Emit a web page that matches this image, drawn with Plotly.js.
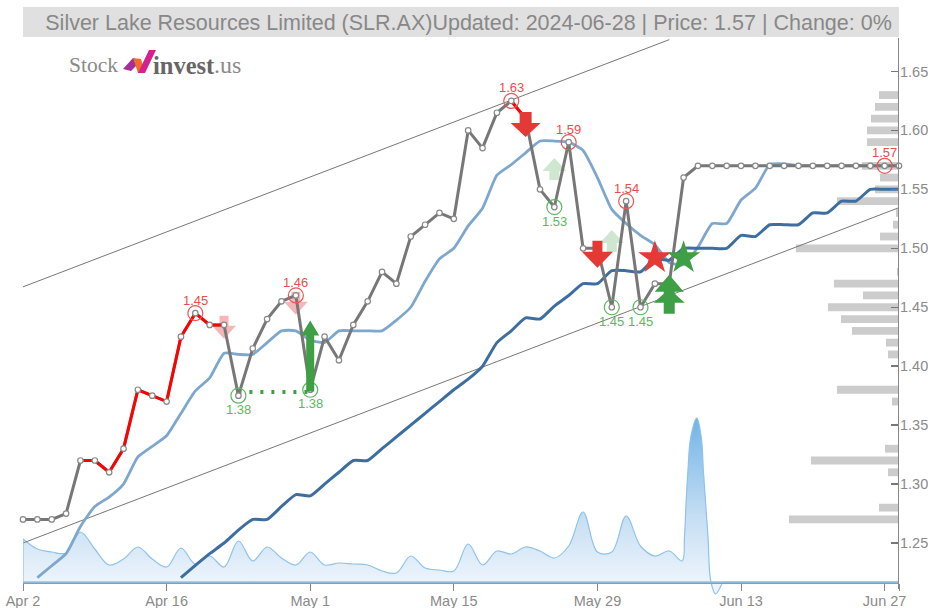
<!DOCTYPE html>
<html>
<head>
<meta charset="utf-8">
<script src="https://cdn.plot.ly/plotly-3.0.1.min.js"></script>
<style>html,body{margin:0;padding:0;background:#fff;overflow:hidden}#c{width:928px;height:608px}</style>
</head>
<body>
<div id="c"></div>
<script>
const tickIdx = [0,10,20,30,40,50,60,61];
const tickLabels = ['Apr 2','Apr 16','May 1','May 15','May 29','Jun 13','Jun 27',''];
const priceTicks = [1.25,1.30,1.35,1.40,1.45,1.50,1.55,1.60,1.65,1.6784];
const priceTickLabels = ['1.25','1.30','1.35','1.40','1.45','1.50','1.55','1.60','1.65',''];

const price = [1.27,1.27,1.27,1.275,1.32,1.32,1.31,1.33,1.38,1.375,1.37,1.425,1.445,1.435,1.435,1.375,1.415,1.44,1.455,1.46,
  1.38,1.425,1.405,1.435,1.455,1.48,1.47,1.51,1.52,1.53,1.525,1.60,1.585,1.615,1.625,1.61,1.55,1.535,1.59,1.50,
  1.50,1.45,1.54,1.45,1.47,1.47,1.56,1.57,1.57,1.57,1.57,1.57,1.57,1.57,1.57,1.57,1.57,1.57,1.57,1.57,1.57,1.57];
const redIdxA = [4,5,6,7,8,9,10,11,12,13,14];
const redIdxB = [34,35];

const maFast = [null,1.2206,1.2307,1.241,1.264,1.281,1.289,1.300,1.323,1.332,1.341,1.36,1.379,1.39,1.411,1.41,1.41,1.42,1.43,1.43,
  1.422,1.42,1.43,1.43,1.43,1.43,1.439,1.45,1.472,1.491,1.50,1.519,1.534,1.562,1.571,1.581,1.591,1.591,1.59,1.583,
  1.56,1.533,1.521,1.511,1.503,1.488,1.486,1.501,1.521,1.521,1.541,1.551,1.571,1.5716,1.57,1.57,1.57,1.57,1.57,1.57,1.57,1.57];
const maSlow = [null,null,null,null,null,null,null,null,null,null,null,1.2206,1.231,1.241,1.25,1.261,1.27,1.27,1.281,1.291,
  1.29,1.30,1.31,1.32,1.32,1.33,1.34,1.35,1.36,1.37,1.38,1.389,1.40,1.42,1.43,1.441,1.44,1.451,1.46,1.47,
  1.47,1.481,1.481,1.48,1.491,1.49,1.50,1.50,1.50,1.50,1.511,1.51,1.52,1.52,1.52,1.53,1.53,1.54,1.54,1.55,1.55,1.55];

// volume curve, with extra readings around the tall June peak
const volumeX = [0,1,2,3,4,5,6,7,8,9,10,11,12,13,14,15,16,17,18,19,
  20,21,22,23,24,25,26,27,28,29,30,31,32,33,34,35,36,37,38,39,
  40,41,42,43,44,45,45.9,46.06,46.17,46.3,46.5,46.92,47.23,47.38,47.54,47.7,47.89,48.23,48.77,48.85,49.2,61];
const volume = [4.3,3.3,3.0,2.9,5.0,3.3,1.7,2.3,3.5,2.3,1.5,3.4,1.8,2.6,1.5,4.1,2.1,3.5,2.4,1.7,
  3.0,1.7,1.9,1.8,1.7,1.1,0.9,2.6,1.4,1.2,1.1,3.8,1.7,3.1,2.8,3.5,3.1,2.4,3.6,7.0,
  3.0,3.0,6.6,3.6,2.6,3.1,2.1,4.5,7.8,11.1,14.5,16.4,14.5,11.1,7.8,4.5,0.1,-1.2,0,0,0,0];

const profilePrice = [1.63,1.62,1.61,1.60,1.59,1.57,1.56,1.55,1.54,1.53,1.52,1.51,1.50,1.48,1.47,1.46,1.45,1.44,1.43,1.42,1.41,1.38,1.37,1.33,1.32,1.31,1.28,1.27];
const profileSize = [20,24,28,32,32,37,19,24,62,3,6,19,103,2,65,36,71,58,47,13,11,62,7,14,88,11,20,110];

const upperX = [0,45], upperY = [1.4673,1.677];
const lowerX = [0,61], lowerY = [1.25,1.5345];
const supportX = [15,20], supportY = [1.378,1.378];

const highIdx = [12,19,34,38,42,60];
const highPrice = [1.445,1.46,1.625,1.59,1.54,1.57];
const highLabel = ['1.45','1.46','1.63','1.59','1.54','1.57'];
const lowIdx = [15,20,37,41,43];
const lowPrice = [1.375,1.38,1.535,1.45,1.45];
const lowLabel = ['1.38','1.38','1.53','1.45','1.45'];

const sellStarIdx = [44], sellStarPrice = [1.492];
const buyStarIdx = [46], buyStarPrice = [1.492];

// arrow signals: index, price at tip, direction, total length, head length, head width, shaft width, colour, opacity
const arrowIdx   = [14,19,37,41,35,40,20,45,45];
const arrowTip   = [1.4232,1.4436,1.5767,1.5156,1.5945,1.4834,1.4387,1.4775,1.4656];
const arrowDir   = ['down','down','up','up','down','down','up','up','up'];
const arrowLen   = [23,23,22,22,25,27,71,25,25];
const arrowHead  = [13,13,13,13,14,16,15,17,14];
const arrowW     = [24,24,24,24,30,31,18,29,31];
const arrowShaft = [9,9,10,10,12,10,8,11,11];
const arrowColor = ['#f4b6b6','#f4b6b6','#cfe6d0','#cfe6d0','#e53935','#e53935','#3f9f45','#3f9f45','#3f9f45'];
const arrowLayer = ['below','below','below','below','above','above','above','above','above'];

const idx = price.map((_,i)=>i);
const pick = (arr,list)=>arr.map((_,i)=>list.includes(i)?arr[i]:null);
const grayFont = '#8a8a8a';
const F = '"Liberation Sans", Arial, sans-serif';

const traces = [
  {x:volumeX,y:volume,xaxis:'x',yaxis:'y',type:'scatter',mode:'lines',cliponaxis:false,
   line:{color:'#8fc3ea',width:1.2,shape:'spline',smoothing:1.0,simplify:false},fill:'tozeroy',
   fillgradient:{type:'vertical',start:16.4,stop:0,colorscale:[[0,'#73b4e6'],[0.6,'#c5def3'],[1,'#edf4fc']]}},
  {y:profilePrice,x:profileSize.map(v=>-v/14.35),base:profilePrice.map(()=>61),xaxis:'x',yaxis:'y2',type:'bar',orientation:'h',
   width:0.0066,marker:{color:'#cccccc',line:{width:0}}},
  {x:upperX,y:upperY,xaxis:'x',yaxis:'y2',mode:'lines',line:{color:'#777',width:1}},
  {x:lowerX,y:lowerY,xaxis:'x',yaxis:'y2',mode:'lines',line:{color:'#777',width:1}},
  {x:idx,y:maFast,xaxis:'x',yaxis:'y2',mode:'lines',line:{color:'#7ea7cd',width:2.8,shape:'spline',smoothing:0.5}},
  {x:idx,y:maSlow,xaxis:'x',yaxis:'y2',mode:'lines',line:{color:'#3c6e9f',width:3,shape:'spline',smoothing:0.5}},
  {x:supportX,y:supportY,xaxis:'x',yaxis:'y2',mode:'lines',line:{color:'#3f9f45',width:4,dash:'3px,8px'}},
  {x:idx,y:price,xaxis:'x',yaxis:'y2',mode:'lines',line:{color:'#777777',width:3}},
  {x:idx,y:pick(price,redIdxA),xaxis:'x',yaxis:'y2',mode:'lines',line:{color:'#ff0000',width:3}},
  {x:idx,y:pick(price,redIdxB),xaxis:'x',yaxis:'y2',mode:'lines',line:{color:'#ff0000',width:3}},
  {x:idx,y:price,xaxis:'x',yaxis:'y2',mode:'markers',cliponaxis:false,marker:{size:5.5,color:'#fff',line:{color:'#888',width:1.2}}},
  {x:highIdx,y:highPrice,xaxis:'x',yaxis:'y2',mode:'markers',marker:{symbol:'circle-open',size:15,color:'#ee5555',line:{width:1.2,color:'#ee5555'}}},
  {x:lowIdx,y:lowPrice,xaxis:'x',yaxis:'y2',mode:'markers',marker:{symbol:'circle-open',size:15,color:'#5cb860',line:{width:1.2,color:'#5cb860'}}},
  {x:sellStarIdx,y:sellStarPrice,xaxis:'x',yaxis:'y2',mode:'markers',marker:{symbol:'star',size:25,color:'#e53935',line:{width:0}}},
  {x:buyStarIdx,y:buyStarPrice,xaxis:'x',yaxis:'y2',mode:'markers',marker:{symbol:'star',size:25,color:'#3f9f45',line:{width:0}}}
];

function arrowPath(dir,len,head,w,sh){
  const s = dir==='down'?1:-1; // tip at origin; y is pixels upward
  const p = [[0,0],[w/2,s*head],[sh/2,s*head],[sh/2,s*len],[-sh/2,s*len],[-sh/2,s*head],[-w/2,s*head]];
  return 'M'+p.map(q=>q[0]+','+q[1]).join(' L')+' Z';
}
const shapes = [
  {type:'rect',xref:'paper',yref:'paper',layer:'below',xsizemode:'pixel',ysizemode:'pixel',xanchor:0,yanchor:1,x0:0,x1:876,y0:1,y1:31,fillcolor:'#e0e0e0',line:{width:0}},
  {type:'line',xref:'x',yref:'y',x0:0,x1:61,y0:0,y1:0,line:{color:'#8fc3ea',width:1.5}},
  {type:'line',xref:'x',yref:'y',x0:0,x1:0,y0:0,y1:4.3,line:{color:'#8fc3ea',width:1.2}},
  // right axis spine: stops just under the date axis
  {type:'line',xref:'x',yref:'y2',x0:61,x1:61,y0:1.2110,y1:1.6784,line:{color:'#888',width:2}},
  // logo mark
  {type:'path',xref:'paper',yref:'paper',xsizemode:'pixel',ysizemode:'pixel',xanchor:0,yanchor:1,path:'M100,-31 L110,-20 L118,-23 L108,-33 Z',fillcolor:'#a62d9c',line:{width:0}},
  {type:'path',xref:'paper',yref:'paper',xsizemode:'pixel',ysizemode:'pixel',xanchor:0,yanchor:1,path:'M110,-20 L118,-21 L122,-35 L115,-35 Z',fillcolor:'#ef6c2a',line:{width:0}},
  {type:'path',xref:'paper',yref:'paper',xsizemode:'pixel',ysizemode:'pixel',xanchor:0,yanchor:1,path:'M115,-35 L126,-12 L133,-12 L122,-35 Z',fillcolor:'#d6208f',line:{width:0}}
];
arrowIdx.forEach((a,i)=>shapes.push({type:'path',xref:'x',yref:'y2',xsizemode:'pixel',ysizemode:'pixel',xanchor:a,yanchor:arrowTip[i],
  path:arrowPath(arrowDir[i],arrowLen[i],arrowHead[i],arrowW[i],arrowShaft[i]),fillcolor:arrowColor[i],line:{width:0},layer:arrowLayer[i]}));

const annotations = [];
highIdx.forEach((a,i)=>annotations.push({x:a,y:highPrice[i],xref:'x',yref:'y2',text:highLabel[i],showarrow:false,yshift:13,font:{family:F,size:13,color:'#ee4b4b'}}));
lowIdx.forEach((a,i)=>annotations.push({x:a,y:lowPrice[i],xref:'x',yref:'y2',text:lowLabel[i],showarrow:false,yshift:-14,font:{family:F,size:13,color:'#5cb860'}}));
const logoAnno = (t,px,font,size,color)=>({xref:'paper',yref:'paper',x:(px-23)/876,y:(595-65)/557,xanchor:'left',yanchor:'middle',showarrow:false,text:t,font:{family:font,size:size,color:color},borderpad:0,borderwidth:0});
annotations.push(logoAnno('Stock',69,'"Liberation Serif"',21.5,'#8a8a8a'));
annotations.push(logoAnno('<b>invest</b>',153,'"Liberation Serif"',24.5,'#666666'));
annotations.push(logoAnno('.us',214,'"Liberation Serif"',24,'#8a8a8a'));

const layout = {
  width:928,height:608,showlegend:false,paper_bgcolor:'#fff',plot_bgcolor:'#fff',
  margin:{l:23,r:29,t:38,b:13,pad:0},barmode:'overlay',
  title:{text:'Silver Lake Resources Limited (SLR.AX)Updated: 2024-06-28 | Price: 1.57 | Change: 0%',
    font:{family:F,size:21.5,color:'#888888'},xref:'paper',x:0.5086,xanchor:'center',y:1-22/608,yanchor:'middle',pad:{t:0,b:0,l:0,r:0}},
  xaxis:{range:[0,61],tickmode:'array',tickvals:tickIdx,ticktext:tickLabels,showgrid:false,zeroline:false,showline:true,linecolor:'#999',linewidth:1.5,
    ticks:'outside',ticklen:7,tickwidth:1,tickcolor:'#888',tickfont:{family:F,size:14.5,color:grayFont},ticklabelstandoff:-2,anchor:'free',position:13/557,automargin:false},
  yaxis:{range:[-1.3,54.4],visible:false,fixedrange:true},
  yaxis2:{range:[1.2059,1.6784],overlaying:'y',side:'right',anchor:'x',tickmode:'array',tickvals:priceTicks,ticktext:priceTickLabels,
    showgrid:false,zeroline:false,showline:false,ticks:'inside',ticklen:8,tickwidth:1.5,tickcolor:'#777',
    tickfont:{family:F,size:14.5,color:grayFont},ticklabelstandoff:0,automargin:false},
  shapes:shapes,annotations:annotations
};
Plotly.newPlot('c',traces,layout,{displayModeBar:false,staticPlot:true});
</script>
</body>
</html>
